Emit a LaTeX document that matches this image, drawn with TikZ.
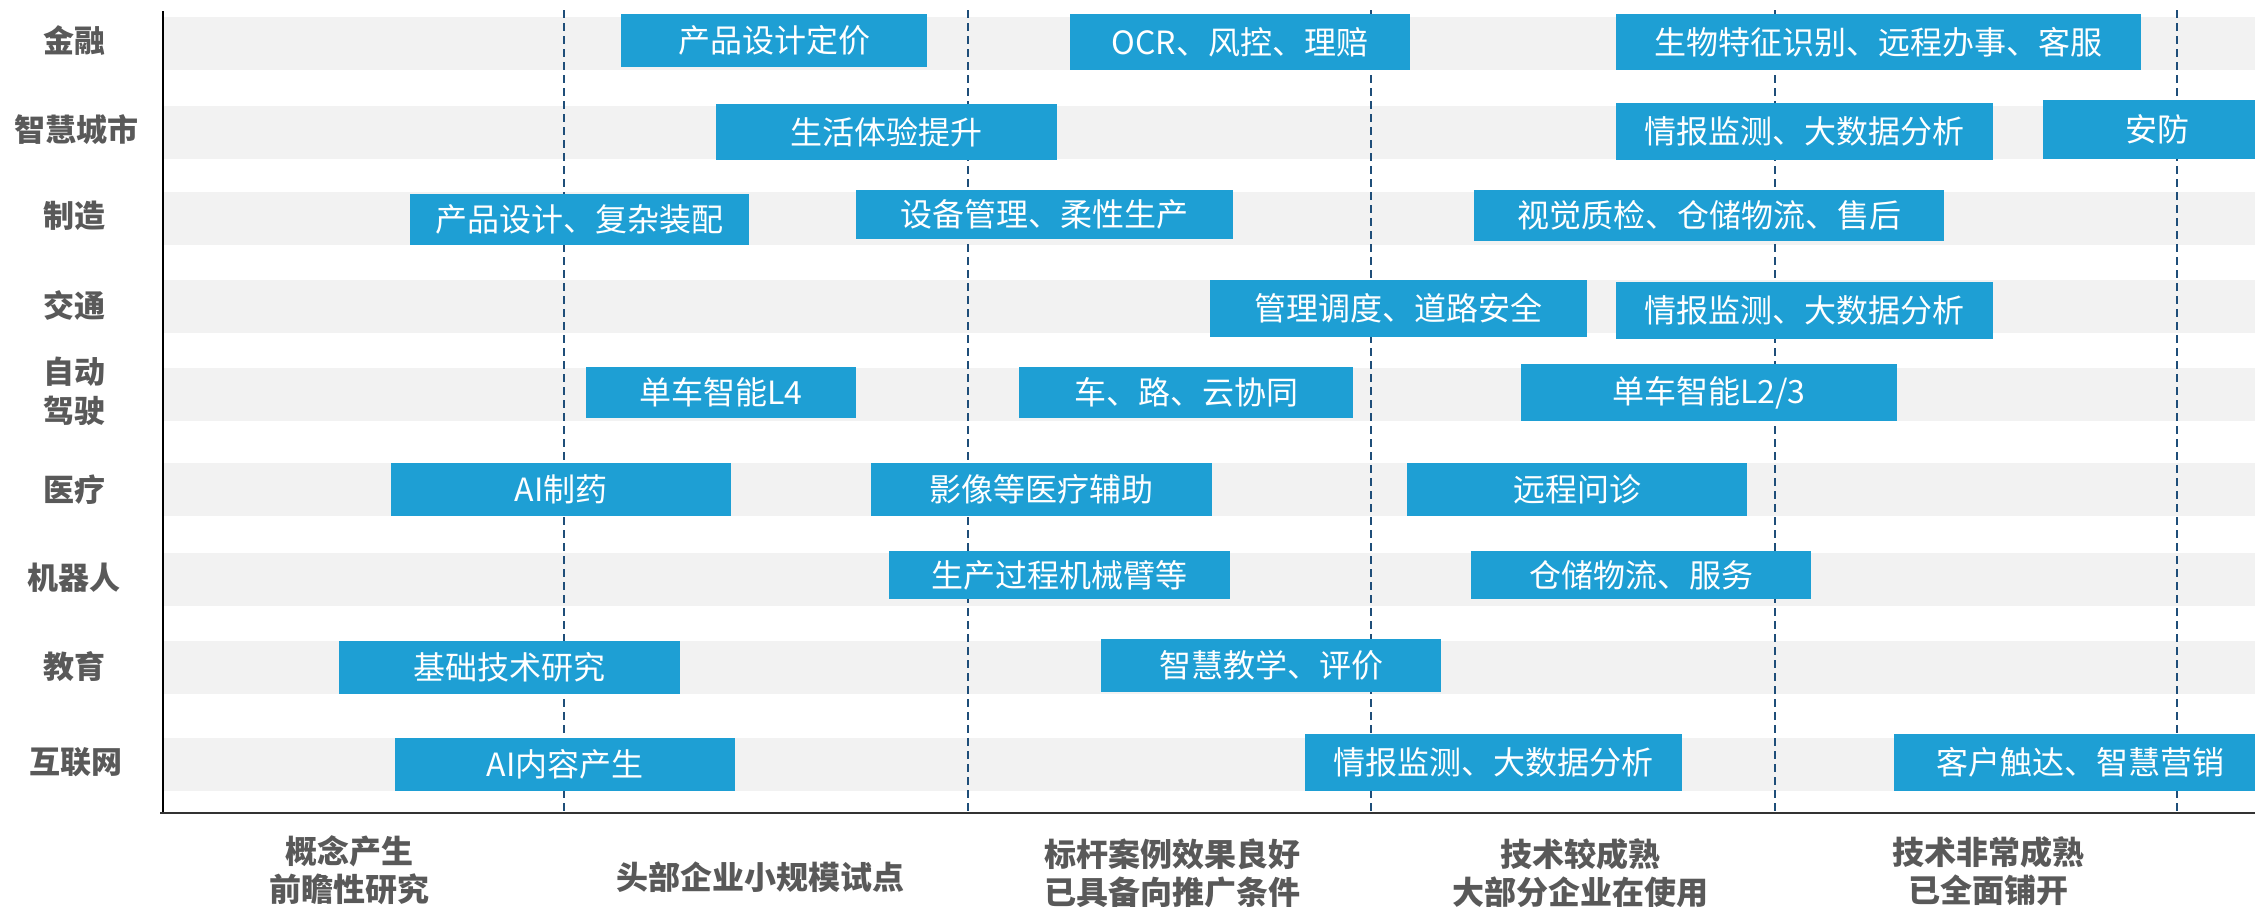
\documentclass[tikz,border=0pt]{standalone}
\usepackage{fontspec}
\setmainfont{Noto Sans CJK SC}
\definecolor{barblue}{HTML}{1E9FD4}
\definecolor{bandgray}{HTML}{F2F2F2}
\definecolor{stagenavy}{HTML}{1F4E79}
\definecolor{labgray}{HTML}{595959}
\begin{document}
\begin{tikzpicture}[x=1pt,y=-1pt,line join=round,
	bar/.style={fill=barblue,text=white,inner sep=0pt,font=\fontsize{32}{36}\selectfont},
	lab/.style={text=labgray,font=\fontsize{31}{39}\selectfont\bfseries,align=center},
	stage/.style={text=labgray,font=\fontsize{32}{38}\selectfont\bfseries,align=center}]
			\useasboundingbox (0,0) rectangle (2255,906);
			% grey bands, one per row
			\fill[bandgray] (164,17) rectangle (2255,70);\fill[bandgray] (164,106) rectangle (2255,159);\fill[bandgray] (164,192) rectangle (2255,245);
			\fill[bandgray] (164,280) rectangle (2255,333);\fill[bandgray] (164,368) rectangle (2255,421);\fill[bandgray] (164,463) rectangle (2255,516);
			\fill[bandgray] (164,553) rectangle (2255,606);\fill[bandgray] (164,641) rectangle (2255,694);\fill[bandgray] (164,738) rectangle (2255,791);
			% stage borders
			\draw[stagenavy,line width=2pt,dash pattern=on 8pt off 5pt] (564,10)--(564,811) (968,10)--(968,811) (1371,10)--(1371,811) (1775,10)--(1775,811) (2177,10)--(2177,811);
			\draw[line width=2.5pt] (163,11)--(163,813);
			\draw[line width=2.5pt,black!80] (160,813)--(2255,813);
			% row labels
			\node[lab] (jinrong) at (74,41) {金融};
			\node[lab] (chengshi) at (76,130) {智慧城市};
			\node[lab] (zhizao) at (74,216) {制造};
			\node[lab] (jiaotong) at (74,305) {交通};
			\node[lab] (jiashi) at (74,391) {自动\\驾驶};
			\node[lab] (yiliao) at (74,490) {医疗};
			\node[lab] (jiqiren) at (74,578) {机器人};
			\node[lab] (jiaoyu) at (74,667) {教育};
			\node[lab] (hulian) at (76,762) {互联网};
			% bars
			\node[bar,minimum width=306,minimum height=53] (jr1) at (774,40.5) {产品设计定价};
			\node[bar,minimum width=340,minimum height=56] (jr2) at (1240,42) {OCR、风控、理赔};
			\node[bar,minimum width=525,minimum height=56] (jr3) at (1878.5,42) {生物特征识别、远程办事、客服};
			\node[bar,minimum width=341,minimum height=56] (cs1) at (886.5,132) {生活体验提升};
			\node[bar,minimum width=377,minimum height=57] (cs2) at (1804.5,131.5) {情报监测、大数据分析};
			\node[bar,minimum width=228,minimum height=59] (cs3) at (2157,129.5) {安防};
			\node[bar,minimum width=339,minimum height=51] (zz1) at (579.5,219.5) {产品设计、复杂装配};
			\node[bar,minimum width=377,minimum height=49] (zz2) at (1044.5,214.5) {设备管理、柔性生产};
			\node[bar,minimum width=470,minimum height=51] (zz3) at (1709,215.5) {视觉质检、仓储物流、售后};
			\node[bar,minimum width=377,minimum height=57] (jt1) at (1398.5,308.5) {管理调度、道路安全};
			\node[bar,minimum width=377,minimum height=57] (jt2) at (1804.5,310.5) {情报监测、大数据分析};
			\node[bar,minimum width=270,minimum height=51] (js1) at (721,392.5) {单车智能L4};
			\node[bar,minimum width=334,minimum height=51] (js2) at (1186,392.5) {车、路、云协同};
			\node[bar,minimum width=376,minimum height=57] (js3) at (1709,392.5) {单车智能L2/3};
			\node[bar,minimum width=340,minimum height=53] (yl1) at (561,489.5) {AI制药};
			\node[bar,minimum width=341,minimum height=53] (yl2) at (1041.5,489.5) {影像等医疗辅助};
			\node[bar,minimum width=340,minimum height=53] (yl3) at (1577,489.5) {远程问诊};
			\node[bar,minimum width=341,minimum height=48] (jq1) at (1059.5,575) {生产过程机械臂等};
			\node[bar,minimum width=340,minimum height=48] (jq2) at (1641,575) {仓储物流、服务};
			\node[bar,minimum width=341,minimum height=53] (jy1) at (509.5,667.5) {基础技术研究};
			\node[bar,minimum width=340,minimum height=53] (jy2) at (1271,665.5) {智慧教学、评价};
			\node[bar,minimum width=340,minimum height=53] (hl1) at (565,764.5) {AI内容产生};
			\node[bar,minimum width=377,minimum height=57] (hl2) at (1493.5,762.5) {情报监测、大数据分析};
			\node[bar,minimum width=372,minimum height=57] (hl3) at (2080,762.5) {客户触达、智慧营销};
			% stage names
			\node[stage] (gainian) at (349,870) {概念产生\\前瞻性研究};
			\node[stage] (shidian) at (760,877) {头部企业小规模试点};
			\node[stage] (biaogan) at (1172,873) {标杆案例效果良好\\已具备向推广条件};
			\node[stage] (chengshu) at (1580,873) {技术较成熟\\大部分企业在使用};
			\node[stage] (puka) at (1988,871) {技术非常成熟\\已全面铺开};
			\end{tikzpicture}
\end{document}
